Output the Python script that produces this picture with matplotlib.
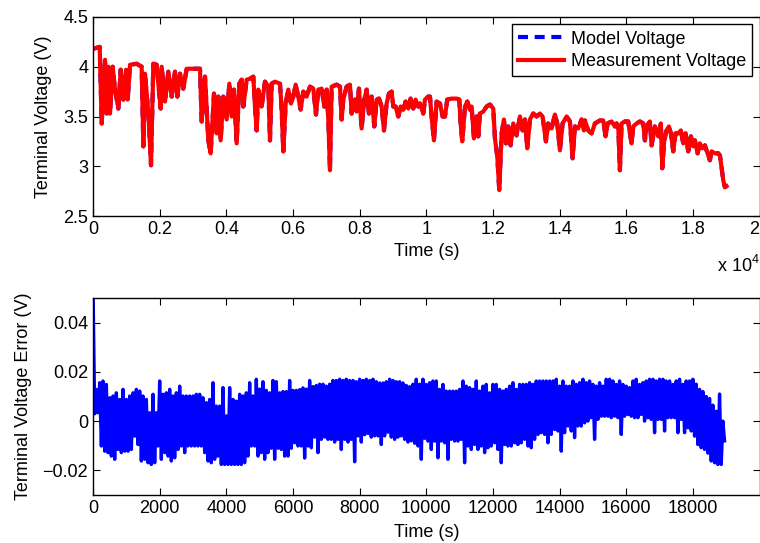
import numpy as np
import matplotlib.pyplot as plt

plt.rcParams['font.family'] = ['Liberation Sans', 'DejaVu Sans']
plt.rcParams['font.size'] = 13

# Terminal voltage: time (s) and volts
time_v = [0, 200, 260, 360, 410, 460, 510, 590, 660, 760, 830, 910, 990, 1040, 1110,
          1310, 1460, 1510, 1560, 1660, 1740, 1810, 1910, 1960, 2030, 2060, 2160, 2260,
          2360, 2460, 2530, 2610, 2710, 2810, 3210, 3260, 3360, 3460, 3530, 3630, 3710,
          3760, 3830, 3910, 4010, 4090, 4160, 4230, 4310, 4390, 4460, 4510, 4610, 4710,
          4810, 4860, 4910, 4960, 5060, 5160, 5260, 5310, 5360, 5460, 5610, 5660, 5710,
          5780, 5860, 5940, 6010, 6080, 6160, 6230, 6310, 6410, 6510, 6610, 6690, 6760,
          6860, 6940, 7010, 7060, 7110, 7160, 7310, 7410, 7460, 7510, 7610, 7710, 7760,
          7860, 7910, 7980, 8060, 8140, 8210, 8280, 8360, 8440, 8510, 8580, 8660, 8730,
          8810, 8880, 8960, 9010, 9080, 9160, 9230, 9310, 9380, 9460, 9530, 9610, 9680,
          9760, 9810, 9910, 9960, 10060, 10110, 10160, 10230, 10310, 10410, 10490, 10560,
          10630, 10760, 10910, 10990, 11030, 11080, 11160, 11230, 11310, 11360, 11430,
          11510, 11560, 11610, 11710, 11810, 11910, 12010, 12060, 12130, 12190, 12260,
          12330, 12390, 12460, 12530, 12610, 12710, 12810, 12890, 12960, 13030, 13110,
          13210, 13310, 13410, 13490, 13590, 13660, 13760, 13860, 13930, 14010, 14090,
          14210, 14310, 14390, 14460, 14560, 14660, 14730, 14760, 14860, 14960, 15060,
          15210, 15310, 15380, 15440, 15560, 15660, 15710, 15760, 15810, 15860, 15960,
          16060, 16110, 16160, 16210, 16310, 16410, 16510, 16560, 16610, 16710, 16760,
          16860, 16960, 17040, 17080, 17140, 17210, 17280, 17340, 17410, 17480, 17560,
          17640, 17710, 17780, 17860, 17940, 18010, 18060, 18140, 18210, 18280, 18360,
          18440, 18510, 18560, 18660, 18760, 18810, 18860, 18910, 18960, 19010]
meas_v = [4.18, 4.20, 3.43, 4.07, 3.53, 4.00, 3.53, 4.00, 3.77, 3.58, 3.97, 3.67, 3.97, 3.67, 4.02,
          4.03, 4.00, 3.20, 3.93, 3.53, 3.01, 4.03, 4.02, 3.83, 3.58, 4.00, 3.65, 3.95,
          3.70, 3.95, 3.70, 3.93, 3.78, 3.98, 3.98, 3.45, 3.90, 3.26, 3.13, 3.73, 3.33,
          3.70, 3.26, 3.70, 3.47, 3.83, 3.50, 3.77, 3.23, 3.83, 3.87, 3.60, 3.87, 3.88,
          3.90, 3.60, 3.36, 3.77, 3.60, 3.85, 3.80, 3.26, 3.83, 3.85, 3.83, 3.57, 3.15,
          3.63, 3.77, 3.63, 3.70, 3.82, 3.70, 3.57, 3.75, 3.70, 3.80, 3.78, 3.52, 3.77,
          3.78, 3.60, 3.77, 3.48, 2.96, 3.80, 3.82, 3.80, 3.47, 3.67, 3.80, 3.82, 3.53,
          3.67, 3.55, 3.78, 3.38, 3.67, 3.77, 3.53, 3.70, 3.40, 3.67, 3.68, 3.60, 3.36,
          3.63, 3.73, 3.75, 3.60, 3.60, 3.50, 3.60, 3.57, 3.65, 3.58, 3.68, 3.58, 3.67,
          3.60, 3.63, 3.53, 3.67, 3.70, 3.70, 3.50, 3.26, 3.65, 3.63, 3.50, 3.50,
          3.67, 3.68, 3.68, 3.67, 3.43, 3.25, 3.60, 3.65, 3.57, 3.60, 3.28,
          3.50, 3.30, 3.53, 3.55, 3.60, 3.62, 3.58, 3.28, 3.10, 2.76, 3.33,
          3.47, 3.23, 3.40, 3.21, 3.43, 3.31, 3.50, 3.36, 3.47, 3.18, 3.47,
          3.53, 3.50, 3.53, 3.50, 3.25, 3.43, 3.38, 3.52, 3.43, 3.16, 3.43,
          3.50, 3.45, 3.08, 3.40, 3.38, 3.47, 3.36, 3.46, 3.36, 3.33, 3.43,
          3.46, 3.46, 3.30, 3.43, 3.45, 3.40, 3.43, 3.40, 2.96, 3.43, 3.45,
          3.45, 3.33, 3.23, 3.40, 3.43, 3.45, 3.43, 3.26, 3.40, 3.45, 3.21,
          3.40, 3.30, 3.43, 2.98, 3.26, 3.36, 3.40, 3.33, 3.15, 3.33, 3.33,
          3.36, 3.23, 3.33, 3.15, 3.30, 3.20, 3.26, 3.13, 3.23, 3.18, 3.21,
          3.13, 3.06, 3.15, 3.13, 3.13, 3.11, 2.99, 2.86, 2.79, 2.80]
# model and measurement sit on top of each other at this scale
model_v = list(meas_v)

# Terminal voltage error: upper and lower edge of the band, one reading per 100 s
err_step = 100
err_hi = [.055, .0129, .0156, .0163, .0149, .0095, .0102, .0115, .0088, .0129,
          .0088, .0102, .0115, .0129, .0122, .0102, .0088, .0034, .0109, .0034,
          .0163, .0109, .0115, .0129, .0102, .0115, .0142, .0102, .0102, .0102,
          .0102, .0109, .0109, .0095, .0075, .0088, .0156, .0061, .0061, .0136,
          .0021, .0136, .0088, .0081, .0109, .0102, .0115, .0156, .0102, .0170,
          .0130, .0160, .0125, .0115, .0165, .0160, .0115, .0120, .0120, .0165,
          .0125, .0125, .0128, .0135, .0130, .0165, .0140, .0145, .0150, .0150,
          .0142, .0150, .0165, .0165, .0170, .0165, .0170, .0165, .0165, .0160,
          .0170, .0165, .0170, .0165, .0170, .0160, .0155, .0155, .0160, .0170,
          .0165, .0160, .0160, .0155, .0145, .0140, .0150, .0170, .0150, .0170,
          .0149, .0156, .0163, .0163, .0129, .0149, .0122, .0122, .0122, .0122,
          .0129, .0163, .0142, .0136, .0129, .0163, .0122, .0142, .0149, .0115,
          .0149, .0149, .0129, .0122, .0129, .0142, .0156, .0129, .0149, .0149,
          .0149, .0156, .0149, .0163, .0163, .0163, .0163, .0163, .0163, .0170,
          .0142, .0163, .0142, .0142, .0163, .0149, .0156, .0170, .0156, .0163,
          .0149, .0142, .0156, .0142, .0170, .0170, .0163, .0149, .0163, .0149,
          .0142, .0136, .0163, .0170, .0149, .0156, .0163, .0170, .0170, .0163,
          .0170, .0170, .0163, .0163, .0149, .0163, .0170, .0149, .0163, .0163,
          .0170, .0150, .0129, .0120, .0100, .0092, .0065, .0040, .0110, .0000]
err_lo = [.0030, .0034, -.0101, -.0122, -.0128, -.0142, -.0155, -.0115, -.0128, -.0122,
          -.0122, -.0115, -.0061, -.0095, -.0162, -.0155, -.0169, -.0176, -.0169, -.0101,
          -.0155, -.0128, -.0142, -.0162, -.0149, -.0115, -.0101, -.0128, -.0101, -.0101,
          -.0101, -.0101, -.0101, -.0128, -.0162, -.0169, -.0155, -.0142, -.0176, -.0176,
          -.0176, -.0176, -.0176, -.0176, -.0176, -.0169, -.0142, -.0101, -.0101, -.0142,
          -.0128, -.0155, -.0128, -.0110, -.0155, -.0110, -.0115, -.0142, -.0142, -.0110,
          -.0088, -.0101, -.0101, -.0150, -.0101, -.0108, -.0065, -.0128, -.0074, -.0065,
          -.0074, -.0074, -.0085, -.0074, -.0115, -.0074, -.0085, -.0074, -.0165, -.0060,
          -.0085, -.0055, -.0050, -.0065, -.0060, -.0060, -.0095, -.0060, -.0045, -.0065,
          -.0074, -.0065, -.0060, -.0074, -.0085, -.0080, -.0090, -.0101, -.0155, -.0070,
          -.0081, -.0115, -.0081, -.0149, -.0081, -.0088, -.0155, -.0074, -.0081, -.0081,
          -.0074, -.0169, -.0101, -.0115, -.0095, -.0115, -.0101, -.0128, -.0108, -.0101,
          -.0088, -.0115, -.0169, -.0095, -.0101, -.0101, -.0088, -.0095, -.0088, -.0074,
          -.0101, -.0108, -.0074, -.0054, -.0047, -.0054, -.0088, -.0054, -.0034, -.0040,
          -.0122, -.0047, -.0020, -.0040, -.0067, -.0020, -.0020, -.0007, .0000, .0014,
          -.0074, .0007, .0020, .0020, .0020, .0014, .0020, .0014, -.0054, .0020,
          .0027, .0020, .0014, .0014, .0027, .0000, .0014, .0007, -.0047, .0007,
          .0007, -.0040, .0014, .0014, .0014, -.0047, .0007, -.0047, -.0027, -.0040,
          -.0061, -.0095, -.0108, -.0115, -.0130, -.0162, -.0169, -.0176, -.0176, -.0080]

top_ticks = [0, 2000, 4000, 6000, 8000, 10000, 12000, 14000, 16000, 18000, 20000]
top_ticklabels = ['0', '0.2', '0.4', '0.6', '0.8', '1', '1.2', '1.4', '1.6', '1.8', '2']
bot_ticks = [0, 2000, 4000, 6000, 8000, 10000, 12000, 14000, 16000, 18000]


# the error trace swings between the band edges
err_t = np.arange(len(err_hi)) * err_step
t_err = np.column_stack([err_t, err_t + err_step / 2]).ravel()
v_err = np.column_stack([err_hi, err_lo]).ravel()

fig = plt.figure(figsize=(7.6, 5.43), dpi=100)
ax1 = fig.add_axes([0.1224, 0.6022, 0.8770, 0.3665])
ax2 = fig.add_axes([0.1224, 0.0884, 0.8770, 0.3628])

# top: model vs measured voltage
ax1.plot(time_v, model_v, color='#0000ff', lw=3, dashes=(2.4, 1.6), label='Model Voltage')
ax1.plot(time_v, meas_v, color='#ff0000', lw=3, label='Measurement Voltage')
ax1.set_xlim(0, 20000)
ax1.set_ylim(2.5, 4.5)
ax1.set_xticks(top_ticks)
ax1.set_xticklabels(top_ticklabels)
# last label sits on the figure edge, keep it inside
ax1.get_xticklabels()[-1].set_horizontalalignment('right')
ax1.set_yticks([2.5, 3, 3.5, 4, 4.5])
ax1.set_yticklabels(['2.5', '3', '3.5', '4', '4.5'])
ax1.set_xlabel('Time (s)')
ax1.set_ylabel('Terminal Voltage (V)')
ax1.xaxis.set_label_coords(0.5, -0.135)
ax1.yaxis.set_label_coords(-0.062, 0.5)
leg = ax1.legend(loc='upper right', fancybox=False, framealpha=1, edgecolor='black',
                 handlelength=2.5, borderaxespad=0.4, borderpad=0.35, labelspacing=0.3,
                 handletextpad=0.4)
leg.get_frame().set_linewidth(1)

# bottom: voltage error
ax2.plot(t_err, v_err, color='#0000ff', lw=2.4)
ax2.set_xlim(0, 20000)
ax2.set_ylim(-0.03, 0.05)
ax2.set_xticks(bot_ticks)
ax2.set_xticklabels([str(t) for t in bot_ticks])
ax2.set_yticks([-0.02, 0, 0.02, 0.04])
ax2.set_yticklabels(['\u22120.02', '0', '0.02', '0.04'])
ax2.set_xlabel('Time (s)')
ax2.set_ylabel('Terminal Voltage Error (V)')
ax2.xaxis.set_label_coords(0.5, -0.145)
ax2.yaxis.set_label_coords(-0.092, 0.5)

for ax in (ax1, ax2):
    ax.tick_params(direction='in', top=True, right=True, length=5, width=0.8, labelsize=13)
    for s in ax.spines.values():
        s.set_linewidth(1)

# MATLAB style exponent under the top axis
fig.text(718 / 760, 1 - 271 / 543, 'x 10', fontsize=13, va='baseline')
fig.text(752 / 760, 1 - 263 / 543, '4', fontsize=9, va='baseline')

fig.savefig('out.png', dpi=100)
